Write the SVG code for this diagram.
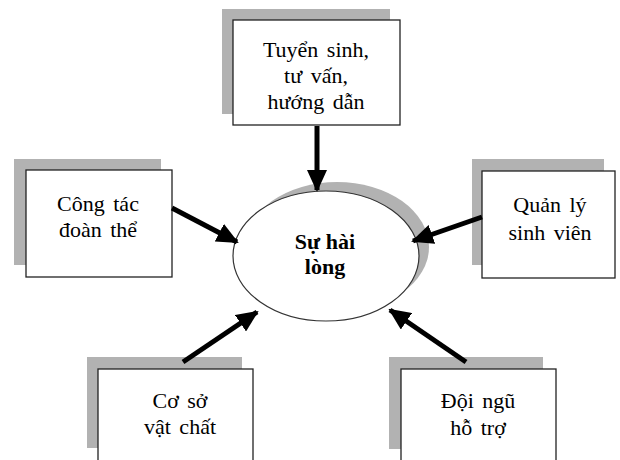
<svg xmlns="http://www.w3.org/2000/svg" width="620" height="460" viewBox="0 0 620 460">
<style>
.shadow{fill:#b2b2b2;stroke:none}
.box{fill:#fff;stroke:#222;stroke-width:1.3}
.t{font-family:"Liberation Serif","Times New Roman",serif;font-size:22px;fill:#000;text-anchor:middle;word-spacing:3px}
.tb{font-family:"Liberation Serif","Times New Roman",serif;font-size:22px;font-weight:bold;fill:#000;text-anchor:middle}
.arr{stroke:#000;stroke-width:5;fill:none;marker-end:url(#ah)}
</style>
<defs>
<marker id="ah" markerUnits="userSpaceOnUse" markerWidth="22" markerHeight="20" viewBox="0 0 22 20" refX="20" refY="10" orient="auto">
<path d="M0,0 L22,10 L0,20 Z" fill="#000"/>
</marker>
</defs>
<rect width="620" height="460" fill="#fff"/>
<g id="center">
<ellipse class="shadow" cx="337" cy="247" rx="92" ry="65"/>
<ellipse cx="326" cy="256" rx="93" ry="65" fill="#fff" stroke="#333" stroke-width="1.2"/>
<text class="tb" x="325" y="249">Sự hài</text>
<text class="tb" x="325" y="274">lòng</text>
</g>
<g id="tuyen-sinh">
<rect class="shadow" x="222" y="9" width="168" height="105"/>
<rect class="box" x="233" y="20" width="167" height="105"/>
<text class="t" x="316" y="57">Tuyển sinh,</text>
<text class="t" x="316" y="83">tư vấn,</text>
<text class="t" x="316" y="109">hướng dẫn</text>
</g>
<g id="cong-tac">
<rect class="shadow" x="14" y="159" width="147" height="106"/>
<rect class="box" x="26" y="170" width="146" height="107"/>
<text class="t" x="98" y="211">Công tác</text>
<text class="t" x="98" y="237">đoàn thể</text>
</g>
<g id="quan-ly">
<rect class="shadow" x="472" y="159" width="132" height="106"/>
<rect class="box" x="482" y="171" width="133" height="107"/>
<text class="t" x="550" y="212">Quản lý</text>
<text class="t" x="550" y="240">sinh viên</text>
</g>
<g id="co-so">
<rect class="shadow" x="87" y="357" width="155" height="91"/>
<rect class="box" x="98" y="369" width="155" height="100"/>
<text class="t" x="180" y="408">Cơ sở</text>
<text class="t" x="180" y="434">vật chất</text>
</g>
<g id="doi-ngu">
<rect class="shadow" x="389" y="357" width="154" height="92"/>
<rect class="box" x="401" y="369" width="155" height="100"/>
<text class="t" x="478" y="408">Đội ngũ</text>
<text class="t" x="478" y="435">hỗ trợ</text>
</g>
<g id="connectors">
<line class="arr" x1="317" y1="126" x2="317" y2="190"/>
<line class="arr" x1="172" y1="208" x2="237" y2="242"/>
<line class="arr" x1="482" y1="217" x2="413" y2="241"/>
<line class="arr" x1="183" y1="362" x2="257" y2="312"/>
<line class="arr" x1="466" y1="362" x2="390" y2="310"/>
</g>
</svg>
